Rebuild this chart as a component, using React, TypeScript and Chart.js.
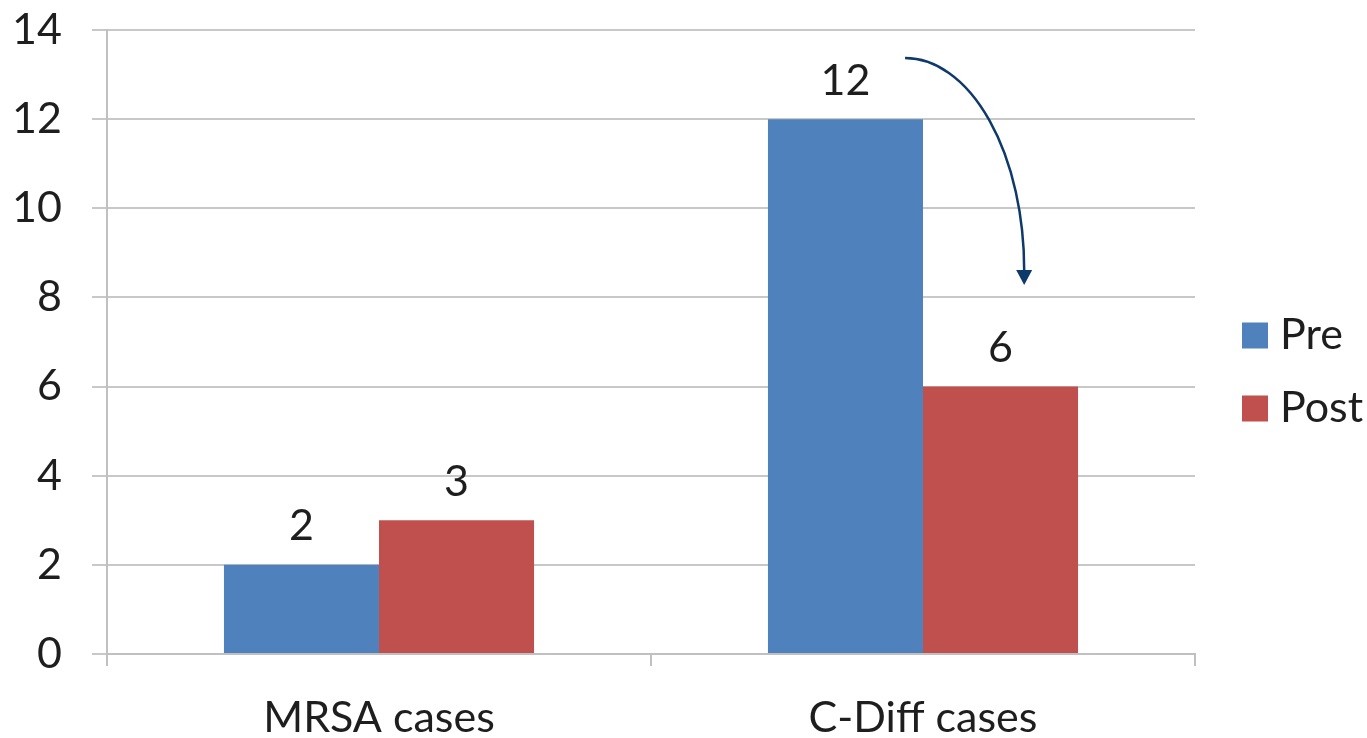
import React, { useEffect, useRef } from "react";
import { Chart, registerables } from "chart.js";

Chart.register(...registerables);

const categories = ["MRSA cases", "C-Diff cases"];
const seriesNames = ["Pre", "Post"];
const preValues = [2, 12];
const postValues = [3, 6];
const yTicks = [0, 2, 4, 6, 8, 10, 12, 14];
const seriesColors = ["#4F81BD", "#C0504D"];
// arrow annotation: [categoryPosition, value]
const arrowStart = [0.967, 13.37];
const arrowEnd = [1.186, 8.28];

const FONT = "Lato, 'Open Sans', sans-serif";
const FONT_SIZE = 43;
const TEXT_COLOR = "#1e1e1e";

const valueLabelPlugin = {
  id: "valueLabels",
  afterDatasetsDraw(chart: any) {
    const ctx = chart.ctx;
    ctx.save();
    ctx.font = `${FONT_SIZE}px ${FONT}`;
    ctx.fillStyle = TEXT_COLOR;
    ctx.textAlign = "center";
    ctx.textBaseline = "bottom";
    chart.data.datasets.forEach((ds: any, di: number) => {
      const meta = chart.getDatasetMeta(di);
      meta.data.forEach((bar: any, i: number) => {
        ctx.fillText(String(ds.data[i]), bar.x, bar.y - 17);
      });
    });
    ctx.restore();
  },
};

const arrowPlugin = {
  id: "arrow",
  afterDatasetsDraw(chart: any) {
    const ctx = chart.ctx;
    const xs = chart.scales.x;
    const ys = chart.scales.y;
    const x0 = xs.getPixelForValue(arrowStart[0]);
    const y0 = ys.getPixelForValue(arrowStart[1]);
    const x1 = xs.getPixelForValue(arrowEnd[0]);
    const y1 = ys.getPixelForValue(arrowEnd[1]);
    const headLen = 15;
    const yLineEnd = y1 - headLen;
    ctx.save();
    ctx.strokeStyle = "#0E3A6B";
    ctx.fillStyle = "#0E3A6B";
    ctx.lineWidth = 2.5;
    ctx.beginPath();
    ctx.ellipse(x0, yLineEnd, x1 - x0, yLineEnd - y0, 0, -Math.PI / 2, 0);
    ctx.stroke();
    ctx.beginPath();
    ctx.moveTo(x1, y1);
    ctx.lineTo(x1 - 8, yLineEnd);
    ctx.lineTo(x1 + 8, yLineEnd);
    ctx.closePath();
    ctx.fill();
    ctx.restore();
  },
};

const legendPlugin = {
  id: "customLegend",
  afterDraw(chart: any) {
    const ctx = chart.ctx;
    const area = chart.chartArea;
    ctx.save();
    ctx.font = `${FONT_SIZE}px ${FONT}`;
    ctx.textBaseline = "middle";
    ctx.textAlign = "left";
    const x = area.right + 47;
    const yMid = (area.top + area.bottom) / 2;
    const spacing = 73;
    seriesNames.forEach((name, i) => {
      const cy = yMid + (i - 0.5) * spacing + 30;
      ctx.fillStyle = seriesColors[i];
      ctx.fillRect(x, cy - 13, 26, 26);
      ctx.fillStyle = TEXT_COLOR;
      ctx.fillText(name, x + 38, cy);
    });
    ctx.restore();
  },
};

export default function App() {
  const ref = useRef<HTMLCanvasElement>(null);
  useEffect(() => {
    if (!ref.current) return;
    const chart = new Chart(ref.current, {
      type: "bar",
      data: {
        labels: categories,
        datasets: [
          { label: seriesNames[0], data: preValues, backgroundColor: seriesColors[0] },
          { label: seriesNames[1], data: postValues, backgroundColor: seriesColors[1] },
        ],
      },
      options: {
        animation: false,
        responsive: false,
        layout: { padding: { top: 30, right: 172, left: 0, bottom: 0 } },
        datasets: { bar: { categoryPercentage: 0.57, barPercentage: 1 } },
        plugins: { legend: { display: false }, tooltip: { enabled: false } },
        scales: {
          x: {
            offset: true,
            grid: { offset: true, drawOnChartArea: false, tickLength: 12, color: "#c0c0c0", lineWidth: 2 },
            border: { display: true, color: "#c0c0c0", width: 2 },
            ticks: { font: { family: FONT, size: FONT_SIZE }, color: TEXT_COLOR, padding: 26 },
            afterFit: (s: any) => { s.height = 84; s.paddingLeft = 0; s.paddingRight = 0; },
          },
          y: {
            min: 0,
            max: 14,
            afterBuildTicks: (s: any) => { s.ticks = yTicks.map((v) => ({ value: v })); },
            grid: { tickLength: 15, color: "#c8c8c8", lineWidth: 2 },
            border: { display: true, color: "#c0c0c0", width: 2 },
            ticks: { font: { family: FONT, size: FONT_SIZE }, color: TEXT_COLOR, padding: 30 },
            afterFit: (s: any) => { s.width = 107; s.paddingTop = 0; s.paddingBottom = 0; },
          },
        },
      },
      plugins: [valueLabelPlugin, arrowPlugin, legendPlugin],
    });
    return () => chart.destroy();
  }, []);
  return (
    <div style={{ position: "fixed", left: 0, top: 0, width: 1367, height: 738, background: "#fff" }}>
      <canvas ref={ref} width={1367} height={738} />
    </div>
  );
}
